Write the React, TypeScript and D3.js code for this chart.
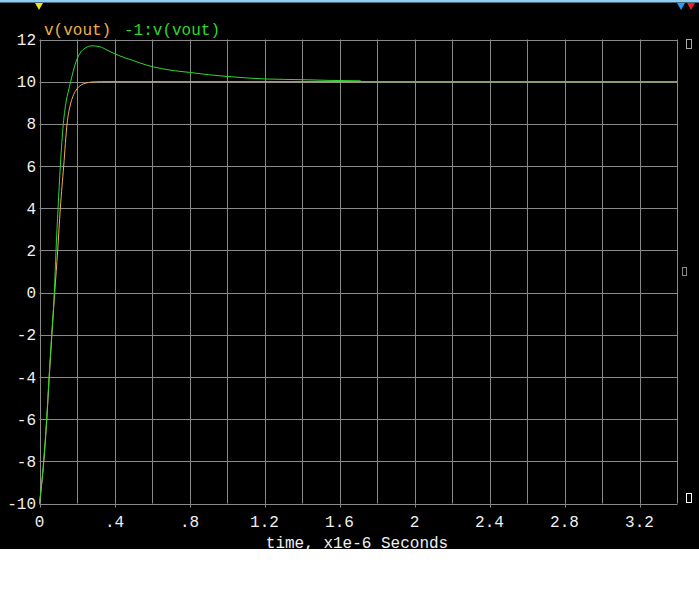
import React from "react";
import * as d3 from "d3";

// v(vout) (orange)
const orangeTime = [0, 0.023, 0.039, 0.052, 0.066, 0.081, 0.097, 0.111, 0.129, 0.147, 0.163, 0.178, 0.195, 0.212, 0.235, 0.26, 0.29, 0.33, 3.4];
const orangeValue = [-10, -8, -6, -4, -2, 0, 2, 4, 6, 8, 8.85, 9.3, 9.6, 9.78, 9.9, 9.96, 9.99, 10, 10];

// -1:v(vout) (green)
const greenTime = [0, 0.022, 0.038, 0.051, 0.065, 0.079, 0.088, 0.099, 0.111, 0.127, 0.14, 0.154, 0.166, 0.18, 0.195, 0.216, 0.245, 0.28, 0.32, 0.36, 0.394, 0.45, 0.5, 0.57, 0.65, 0.72, 0.8, 0.9, 1.0, 1.1, 1.2, 1.3, 1.43, 1.55, 1.71, 1.72, 3.4];
const greenValue = [-10, -8, -6, -4, -2, 0, 2, 4, 6, 8, 8.95, 9.55, 10, 10.5, 10.95, 11.35, 11.6, 11.7, 11.66, 11.5, 11.35, 11.15, 11.0, 10.79, 10.62, 10.52, 10.44, 10.33, 10.25, 10.18, 10.13, 10.11, 10.09, 10.06, 10.04, 10.0, 10];

const xTickValues = [0, 0.4, 0.8, 1.2, 1.6, 2, 2.4, 2.8, 3.2];
const xTickLabels = ["0", ".4", ".8", "1.2", "1.6", "2", "2.4", "2.8", "3.2"];
const xGridValues = d3.range(0, 3.41, 0.2);
const yTickValues = [-10, -8, -6, -4, -2, 0, 2, 4, 6, 8, 10, 12];
const yTickLabels = ["-10", "-8", "-6", "-4", "-2", "0", "2", "4", "6", "8", "10", "12"];

const legendLabels = ["v(vout)", "-1:v(vout)"];
const xTitle = "time, x1e-6 Seconds";

const W = 699;
const H = 600;
const left = 39.5;
const right = 677;
const top = 39.5;
const bottom = 503.5;

const FONT = "Liberation Mono, Courier New, Cousine, DejaVu Sans Mono, monospace";
const GRID = "#8a8a8a";
const ORANGE = "#f0b048";
const GREEN = "#2ed82e";
const TEXT = "#f0f0f0";

export default function App() {
  const x = d3.scaleLinear().domain([0, 3.4]).range([left, right]);
  const y = d3.scaleLinear().domain([-10, 12]).range([bottom, top]);

  const line = d3
    .line<[number, number]>()
    .x((d) => x(d[0]))
    .y((d) => y(d[1]))
    .curve(d3.curveMonotoneX);

  const orangeData: [number, number][] = orangeTime.map((t, i) => [t, orangeValue[i]]);
  const greenData: [number, number][] = greenTime.map((t, i) => [t, greenValue[i]]);

  const textStyle: React.CSSProperties = { fontFamily: FONT, fontSize: "16px" };

  return (
    <svg
      width={W}
      height={H}
      style={{ position: "fixed", left: 0, top: 0, display: "block" }}
    >
      <rect x={0} y={0} width={W} height={H} fill="#ffffff" />
      <rect x={0} y={0} width={W} height={549} fill="#000000" />
      <rect x={0} y={0} width={W} height={2.5} fill="#8ccff0" />

      {/* top markers */}
      <path d="M35,3 L43,3 L39,10 Z" fill="#f0e010" />
      <path d="M677,3 L685,3 L681,10 Z" fill="#2a9cf0" />
      <path d="M687,3 L695,3 L691,10 Z" fill="#f02020" />

      {/* grid */}
      {xGridValues.map((v, i) => (
        <line key={"gx" + i} x1={Math.round(x(v)) + 0.5} x2={Math.round(x(v)) + 0.5} y1={top} y2={bottom} stroke={GRID} strokeWidth={1} />
      ))}
      {yTickValues.map((v, i) => (
        <line key={"gy" + i} x1={left} x2={right + 0.5} y1={Math.round(y(v)) + 0.5} y2={Math.round(y(v)) + 0.5} stroke={GRID} strokeWidth={1} />
      ))}
      {xTickValues.map((v, i) => (
        <line key={"tx" + i} x1={Math.round(x(v)) + 0.5} x2={Math.round(x(v)) + 0.5} y1={bottom} y2={bottom + 4} stroke={GRID} strokeWidth={1} />
      ))}

      {/* curves */}
      <path d={line(orangeData) || ""} fill="none" stroke={ORANGE} strokeWidth={1} />
      <path d={line(greenData) || ""} fill="none" stroke={GREEN} strokeWidth={1} />

      {/* y labels */}
      {yTickValues.map((v, i) => (
        <text key={"ly" + i} x={36} y={y(v)} dy="0.35em" textAnchor="end" style={textStyle} fill={TEXT}>
          {yTickLabels[i]}
        </text>
      ))}
      {/* x labels */}
      {xTickValues.map((v, i) => (
        <text key={"lx" + i} x={x(v)} y={527} textAnchor="middle" style={textStyle} fill={TEXT}>
          {xTickLabels[i]}
        </text>
      ))}
      <text x={357} y={548} textAnchor="middle" style={textStyle} fill={TEXT}>
        {xTitle}
      </text>

      {/* legend */}
      <text x={44} y={35} style={textStyle} fill={ORANGE}>
        {legendLabels[0]}
      </text>
      <text x={124} y={35} style={textStyle} fill={GREEN}>
        {legendLabels[1]}
      </text>

      {/* right side boxes */}
      <rect x={686.5} y={39.5} width={5} height={9} fill="none" stroke="#aaaaaa" strokeWidth={1} />
      <rect x={682.5} y={267.5} width={4} height={8} fill="none" stroke="#8a8a8a" strokeWidth={1} />
      <rect x={686.5} y={493.5} width={5} height={9} fill="none" stroke="#ffffff" strokeWidth={1} />
    </svg>
  );
}
